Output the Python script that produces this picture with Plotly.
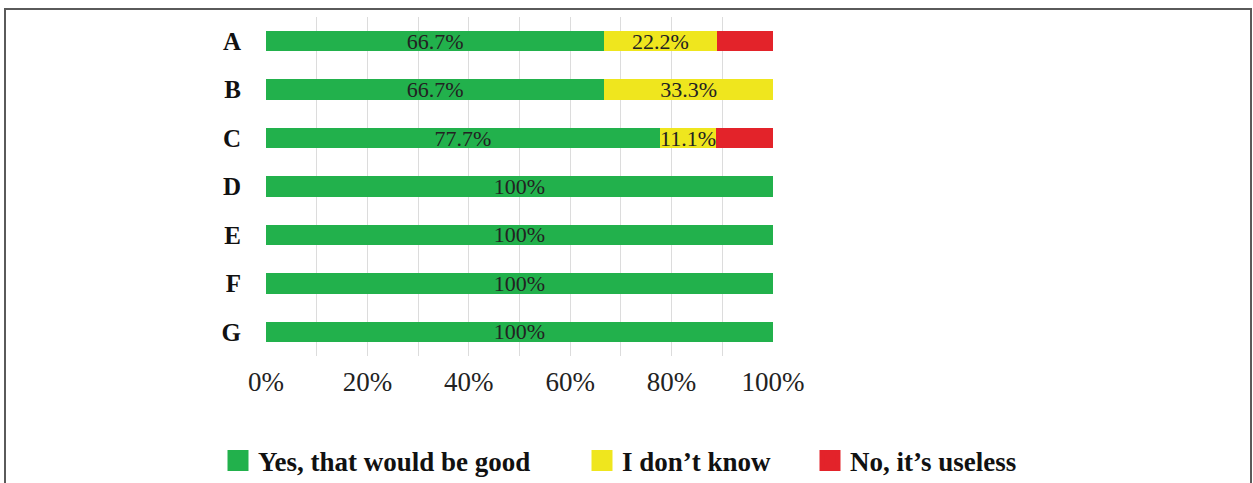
import plotly.graph_objects as go

categories = ["A", "B", "C", "D", "E", "F", "G"]
yes_vals = [66.7, 66.7, 77.7, 100, 100, 100, 100]
dont_know_vals = [22.2, 33.3, 11.1, 0, 0, 0, 0]
useless_vals = [11.1, 0, 11.2, 0, 0, 0, 0]
tick_vals = [0, 20, 40, 60, 80, 100]
tick_text = ["0%", "20%", "40%", "60%", "80%", "100%"]

series_names = ["Yes, that would be good", "I don't know", "No, it\u2019s useless"]
legend_names = ["Yes, that would be good", "I don\u2019t know", "No, it\u2019s useless"]
colors = ["#22b14c", "#efe61e", "#e3232a"]
show_labels = [True, True, False]

SERIF = "Liberation Serif, Times New Roman, serif"

W, H = 1253, 483
L, R, T, B = 266, 480, 17, 127
pw = W - L - R
ph = H - T - B


def px_x(p):
    return (p - L) / pw


def px_y(p):
    return (H - B - p) / ph


fig = go.Figure()
for name, vals, col, lab in zip(series_names, [yes_vals, dont_know_vals, useless_vals], colors, show_labels):
    texts = [(f"{v:g}%" if (lab and v > 0) else "") for v in vals]
    fig.add_trace(go.Bar(
        y=categories, x=vals, orientation="h", name=name,
        marker=dict(color=col, line=dict(width=0)),
        text=texts, textposition="inside", insidetextanchor="middle",
        constraintext="none",
        textfont=dict(family=SERIF, size=22, color="#222222"),
        showlegend=False, hoverinfo="x+name",
    ))

legend_ids = ["legend", "legend2", "legend3"]
legend_left = [218, 582, 810]
for lname, col, lid in zip(legend_names, colors, legend_ids):
    fig.add_trace(go.Scatter(
        x=[None], y=[None], mode="markers", name=lname, legend=lid,
        marker=dict(symbol="square", size=16, color=col, line=dict(color=col, width=5)),
        showlegend=True,
    ))

legend_common = dict(
    orientation="h", xanchor="left", yanchor="middle",
    font=dict(family=SERIF, size=27, color="#111111", weight="bold"),
    bgcolor="rgba(0,0,0,0)", itemclick=False, itemdoubleclick=False,
)

layout_legends = {}
for lid, lx in zip(legend_ids, legend_left):
    d = dict(legend_common)
    d.update(x=px_x(lx), y=px_y(461))
    layout_legends[lid] = d

fig.update_layout(
    width=W, height=H,
    margin=dict(l=L, r=R, t=T, b=B, autoexpand=False),
    paper_bgcolor="white", plot_bgcolor="white",
    barmode="stack", bargap=0.58,
    font=dict(family=SERIF, color="#1a1a1a"),
    xaxis=dict(
        range=[0, 100], tickvals=tick_vals, ticktext=tick_text,
        tickfont=dict(family=SERIF, size=27, color="#222222"),
        showgrid=True, gridcolor="#dcdcdc", gridwidth=1,
        minor=dict(dtick=10, showgrid=True, gridcolor="#dcdcdc", gridwidth=1),
        zeroline=False, showline=False, ticks="", ticklabelstandoff=7,
        fixedrange=True, automargin=False,
    ),
    yaxis=dict(
        range=[6.5, -0.5], type="category",
        tickfont=dict(family=SERIF, size=25, color="#111111", weight="bold"),
        showgrid=False, zeroline=False, showline=False, ticks="",
        ticklabelstandoff=24, fixedrange=True, automargin=False,
    ),
    shapes=[dict(
        type="rect", xref="paper", yref="paper",
        x0=px_x(5), x1=px_x(1251), y0=px_y(530), y1=px_y(9),
        line=dict(color="#5a5a5a", width=2), fillcolor="rgba(0,0,0,0)", layer="above",
    )],
    **layout_legends,
)

fig.write_html(
    "out.html",
    config={"displayModeBar": False},
    post_script="document.body.style.margin='0';document.body.style.overflow='hidden';",
)
